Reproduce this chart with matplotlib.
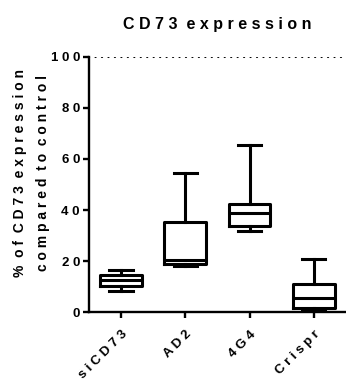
import matplotlib
matplotlib.use('Agg')
import matplotlib.pyplot as plt
import numpy as np

plt.rcParams['font.family'] = ['Liberation Sans', 'DejaVu Sans']
plt.rcParams['font.weight'] = 'bold'

# values
groups = ['siCD73', 'AD2', '4G4', 'Crispr']
whisker_low = [8.3, 18.2, 31.8, 0.5]
q1 = [10.3, 19.0, 33.7, 1.8]
median = [12.5, 20.5, 38.7, 5.5]
q3 = [14.8, 35.4, 42.3, 11.0]
whisker_high = [16.4, 54.4, 65.5, 21.0]
y_ticks = [0, 20, 40, 60, 80, 100]


def spaced(s):
    # Prism-like wide letter spacing
    return ' '.join(s).replace('   ', '  ')


stats = []
for i, g in enumerate(groups):
    stats.append(dict(label=spaced(g), whislo=whisker_low[i], q1=q1[i], med=median[i],
                      q3=q3[i], whishi=whisker_high[i], fliers=[]))

fig = plt.figure(figsize=(3.46, 3.80), dpi=100)
ax = fig.add_axes([0.257, 0.178, 0.743, 0.673])

lw = 2.2
ax.bxp(stats, positions=np.arange(len(groups)), widths=0.65, capwidths=0.36,
       showfliers=False,
       boxprops=dict(color='black', linewidth=lw),
       whiskerprops=dict(color='black', linewidth=lw),
       capprops=dict(color='black', linewidth=lw),
       medianprops=dict(color='black', linewidth=lw),
       manage_ticks=False)

ax.axhline(100, color='black', linestyle=':', linewidth=1.5, dashes=(0.1, 3.0),
           dash_capstyle='round')

ax.set_xlim(-0.5, len(groups) - 0.5)
ax.set_ylim(0, 100)
ax.set_yticks(y_ticks)
ax.set_yticklabels([spaced(str(t)) for t in y_ticks], fontsize=9.5, fontweight='bold')
ax.set_xticks(np.arange(len(groups)))
ax.set_xticklabels([spaced(g) for g in groups], fontsize=9.5, fontweight='bold',
                   rotation=45, ha='right', rotation_mode='anchor')

for side in ['top', 'right']:
    ax.spines[side].set_visible(False)
for side in ['left', 'bottom']:
    ax.spines[side].set_linewidth(1.7)
ax.tick_params(width=1.7, length=4.5, direction='out', pad=2)
ax.tick_params(axis='x', pad=7)

ax.set_ylabel(spaced('% of CD73 expression') + '\n' + spaced('compared to control'),
              fontsize=10, fontweight='bold', linespacing=1.85)
ax.yaxis.set_label_coords(-0.15, 0.545)
ax.set_title(spaced('CD73 expression'), fontsize=11.5, fontweight='bold', pad=20)

fig.savefig('out.png', dpi=100)
